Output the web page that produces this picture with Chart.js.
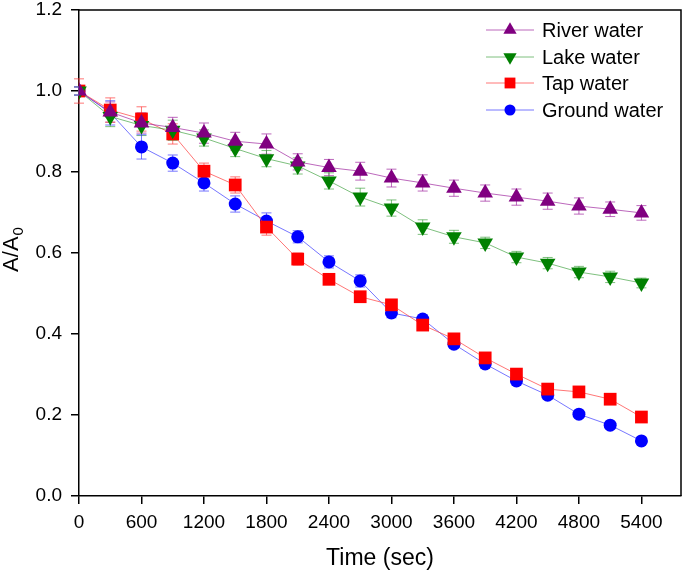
<!DOCTYPE html>
<html>
<head>
<meta charset="utf-8">
<script src="https://cdn.jsdelivr.net/npm/chart.js@4.4.0/dist/chart.umd.min.js"></script>
<style>
  html, body { margin: 0; padding: 0; background: #fff; }
  #wrap { width: 685px; height: 573px; position: relative; }
</style>
</head>
<body>
<div id="wrap"><canvas id="chart"></canvas></div>
<script>
const times = [0, 300, 600, 900, 1200, 1500, 1800, 2100, 2400, 2700, 3000, 3300, 3600, 3900, 4200, 4500, 4800, 5100, 5400];

const river  = [1.0, 0.948, 0.921, 0.910, 0.896, 0.876, 0.869, 0.825, 0.811, 0.802, 0.785, 0.773, 0.760, 0.748, 0.738, 0.728, 0.716, 0.708, 0.699];
const lake   = [1.0, 0.937, 0.915, 0.903, 0.884, 0.858, 0.833, 0.815, 0.778, 0.738, 0.711, 0.664, 0.640, 0.625, 0.590, 0.575, 0.553, 0.541, 0.526];
const tap    = [1.0, 0.953, 0.931, 0.894, 0.802, 0.768, 0.664, 0.585, 0.535, 0.492, 0.472, 0.422, 0.388, 0.341, 0.301, 0.264, 0.257, 0.239, 0.195];
const ground = [1.0, 0.946, 0.862, 0.822, 0.773, 0.721, 0.679, 0.640, 0.578, 0.531, 0.452, 0.437, 0.375, 0.326, 0.284, 0.249, 0.202, 0.175, 0.136];

// +/- error values
const riverErr  = [0.010, 0.025, 0.025, 0.025, 0.025, 0.022, 0.025, 0.020, 0.020, 0.022, 0.022, 0.020, 0.020, 0.020, 0.020, 0.020, 0.020, 0.018, 0.018];
const lakeErr   = [0.010, 0.025, 0.025, 0.025, 0.020, 0.020, 0.020, 0.020, 0.020, 0.022, 0.020, 0.018, 0.016, 0.014, 0.014, 0.014, 0.014, 0.014, 0.012];
const tapErr    = [0.030, 0.030, 0.030, 0.025, 0.020, 0.020, 0.020, 0.015, 0.012, 0.010, 0.010, 0.010, 0.008, 0.008, 0.008, 0.008, 0.008, 0.008, 0.008];
const groundErr = [0.010, 0.030, 0.030, 0.020, 0.020, 0.020, 0.020, 0.015, 0.015, 0.015, 0.012, 0.010, 0.010, 0.010, 0.010, 0.010, 0.008, 0.008, 0.008];

const xTicks = [0, 600, 1200, 1800, 2400, 3000, 3600, 4200, 4800, 5400];
const yTicks = [0, 0.2, 0.4, 0.6, 0.8, 1.0, 1.2];

const seriesNames = ["River water", "Lake water", "Tap water", "Ground water"];
const xTitle = "Time (sec)";

const FONT = "Arial, 'Liberation Sans', sans-serif";

function pts(vals) {
  return vals.map((v, i) => ({ x: times[i], y: v }));
}

function series(label, vals, errs, color, lineColor, style, radius, rotation) {
  return {
    label,
    data: pts(vals),
    errors: errs,
    borderColor: lineColor,
    backgroundColor: color,
    pointBackgroundColor: color,
    pointBorderColor: color,
    pointBorderWidth: 0,
    pointStyle: style,
    pointRadius: radius,
    pointRotation: rotation,
    pointHoverRadius: radius,
    borderWidth: 1,
    tension: 0,
    errColor: lineColor,
  };
}

// error bars, drawn under the markers
const errorBarsPlugin = {
  id: "errorBars",
  beforeDatasetsDraw(chart) {
    const { ctx, scales } = chart;
    const xs = scales.x, ys = scales.y;
    ctx.save();
    ctx.lineWidth = 1;
    chart.data.datasets.forEach(ds => {
      ctx.strokeStyle = ds.errColor;
      ds.data.forEach((p, i) => {
        const e = ds.errors[i];
        const x = xs.getPixelForValue(p.x);
        const y1 = ys.getPixelForValue(p.y + e);
        const y2 = ys.getPixelForValue(p.y - e);
        ctx.beginPath();
        ctx.moveTo(x, y1); ctx.lineTo(x, y2);
        ctx.moveTo(x - 5, y1); ctx.lineTo(x + 5, y1);
        ctx.moveTo(x - 5, y2); ctx.lineTo(x + 5, y2);
        ctx.stroke();
      });
    });
    ctx.restore();
  }
};

// top/right frame, y title with subscript, legend inside plot
const decorPlugin = {
  id: "decor",
  afterDraw(chart) {
    const { ctx, chartArea: a } = chart;
    ctx.save();
    ctx.strokeStyle = "#000";
    ctx.lineWidth = 1.5;
    ctx.beginPath();
    ctx.moveTo(a.left, a.top);
    ctx.lineTo(a.right, a.top);
    ctx.lineTo(a.right, a.bottom);
    ctx.stroke();

    // y title "A/A0"
    ctx.fillStyle = "#000";
    ctx.translate(12, 250);
    ctx.rotate(-Math.PI / 2);
    ctx.textBaseline = "middle";
    ctx.textAlign = "left";
    const main = "A/A";
    ctx.font = "22px " + FONT;
    const w1 = ctx.measureText(main).width;
    ctx.font = "15px " + FONT;
    const w2 = ctx.measureText("0").width;
    const x0 = -(w1 + w2) / 2;
    ctx.font = "22px " + FONT;
    ctx.fillText(main, x0, 0);
    ctx.font = "15px " + FONT;
    ctx.fillText("0", x0 + w1 + 1, 7);
    ctx.restore();

    // legend
    ctx.save();
    ctx.font = "20px " + FONT;
    ctx.textBaseline = "middle";
    ctx.textAlign = "left";
    const rows = [30, 57, 83, 110];
    chart.data.datasets.forEach((ds, i) => {
      const y = rows[i];
      ctx.strokeStyle = ds.borderColor;
      ctx.lineWidth = 1;
      ctx.beginPath();
      ctx.moveTo(486, y); ctx.lineTo(534, y);
      ctx.stroke();
      ctx.fillStyle = ds.pointBackgroundColor;
      ctx.strokeStyle = ds.pointBackgroundColor;
      Chart.helpers.drawPoint(ctx, {
        pointStyle: ds.pointStyle,
        rotation: ds.pointRotation,
        radius: ds.pointRadius * 0.85,
        borderWidth: 0
      }, 510, y);
      ctx.fillStyle = "#000";
      ctx.fillText(ds.label, 542, y + 1);
    });
    ctx.restore();
  }
};

const datasets = [
  series(seriesNames[0], river,  riverErr,  "#800080", "rgba(160,40,160,0.7)", "triangle", 9,   0),
  series(seriesNames[1], lake,   lakeErr,   "#008000", "rgba(40,150,40,0.6)",  "triangle", 9,   180),
  series(seriesNames[2], tap,    tapErr,    "#ff0000", "rgba(255,60,60,0.7)",  "rect",     9,   0),
  series(seriesNames[3], ground, groundErr, "#0000ff", "rgba(60,60,255,0.7)",  "circle",   6.5, 0),
];

const ctx = document.getElementById("chart").getContext("2d");
new Chart(ctx, {
  type: "line",
  data: { datasets },
  plugins: [errorBarsPlugin, decorPlugin],
  options: {
    animation: false,
    responsive: true,
    maintainAspectRatio: false,
    layout: { autoPadding: false, padding: { top: 10, right: 4, left: 0, bottom: 0 } },
    plugins: { legend: { display: false }, tooltip: { enabled: false } },
    scales: {
      x: {
        type: "linear",
        min: 0,
        max: 5780,
        afterBuildTicks(s) { s.ticks = xTicks.map(v => ({ value: v })); },
        afterFit(s) { s.height = 77; s.paddingLeft = 0; s.paddingRight = 0; },
        border: { color: "#000", width: 1.5 },
        grid: { drawOnChartArea: false, tickLength: 8, color: "#000", lineWidth: 1.5 },
        ticks: {
          color: "#000",
          padding: 7,
          maxRotation: 0,
          autoSkip: false,
          font: { family: FONT, size: 19 },
          callback: v => String(v)
        },
        title: {
          display: true,
          text: xTitle,
          color: "#000",
          font: { family: FONT, size: 23 },
          padding: { top: 4, bottom: 1 }
        }
      },
      y: {
        min: 0,
        max: 1.2,
        afterBuildTicks(s) { s.ticks = yTicks.map(v => ({ value: v })); },
        afterFit(s) { s.width = 79; s.paddingTop = 0; s.paddingBottom = 0; },
        border: { color: "#000", width: 1.5 },
        grid: { drawOnChartArea: false, tickLength: 8, color: "#000", lineWidth: 1.5 },
        ticks: {
          color: "#000",
          padding: 9,
          autoSkip: false,
          font: { family: FONT, size: 19 },
          callback: v => v.toFixed(1)
        }
      }
    }
  }
});
</script>
</body>
</html>
